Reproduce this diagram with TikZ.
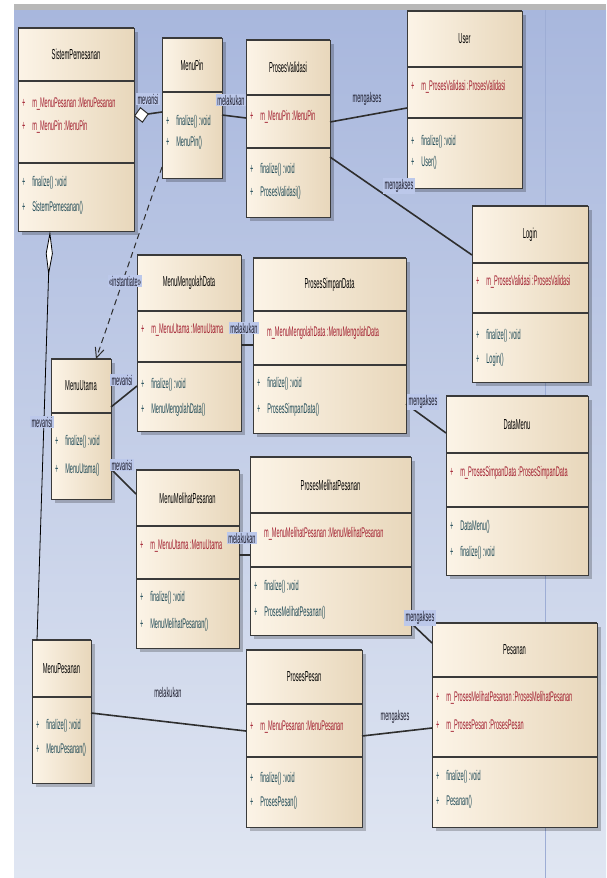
\documentclass[tikz,border=0pt]{standalone}
\usepackage{fontspec}
\newfontfamily\umlf[FakeStretch=0.4]{Liberation Sans}
\usetikzlibrary{arrows.meta}
\definecolor{bgT}{HTML}{A8B7DD}
\definecolor{bgB}{HTML}{E0E6F2}
\definecolor{barc}{HTML}{B8B8B8}
\definecolor{boxL}{HTML}{FCF4E7}
\definecolor{boxR}{HTML}{E8D7BB}
\definecolor{boxline}{HTML}{3A3A3A}
\definecolor{attrc}{HTML}{A11D2E}
\definecolor{methc}{HTML}{1F4A57}
\definecolor{lblc}{HTML}{BCC8EA}
\definecolor{linec}{HTML}{2E2E2E}
\definecolor{vlinec}{HTML}{9DADD5}
\definecolor{lbltext}{HTML}{1C1C2C}
\newcounter{tl}
\tikzset{
 clsbox/.style={draw=boxline, line width=1pt, left color=boxL, right color=boxR, inner sep=0pt, outer sep=0pt, anchor=north west},
 boxshadow/.style={fill=black, opacity=0.22},
 topl/.style={draw=boxline, line width=2.2pt},
 divl/.style={draw=boxline, line width=1.4pt},
 clsname/.style={font=\umlf\fontsize{14.5}{16}\selectfont, text=black, inner sep=0pt},
 attrt/.style={font=\umlf\fontsize{14}{16}\selectfont, text=attrc, inner sep=0pt, anchor=west},
 metht/.style={font=\umlf\fontsize{14}{16}\selectfont, text=methc, inner sep=0pt, anchor=west},
 lbl/.style={font=\umlf\fontsize{14}{16}\selectfont, text=lbltext, fill=lblc, inner sep=1.2pt},
 lbln/.style={font=\umlf\fontsize{14}{16}\selectfont, text=lbltext, inner sep=1.2pt},
 assoc/.style={draw=linec, line width=1.6pt},
 thinl/.style={draw=black, line width=0.8pt},
 dep/.style={draw=linec, line width=1pt, dash pattern=on 6pt off 4pt},
}
\newcommand\umlclass[7]{%
 \fill[boxshadow] (#2+4,#3+4) rectangle (#4+4,#5+4);
 \node[clsbox, minimum width={(#4-#2)*1pt}, minimum height={(#5-#3)*1pt}] (#1) at (#2,#3) {};
 \draw[topl] (#1.north west) -- (#1.north east);
 \node[clsname] (#1-name) at ({(#2+#4)/2},{(#3+#6)/2}) {#7};
 \draw[divl] (#1.west |- 0,#6) -- (#1.east |- 0,#6);
}
\newcommand\umldiv[2]{\draw[divl] (#1.west |- 0,#2) -- (#1.east |- 0,#2);}
\newcommand\umlattr[3]{\stepcounter{tl}\node[attrt, xshift=4pt] (t\thetl) at (#1.west |- 0,#2) {+\hspace{6.8pt}#3};}
\newcommand\umlattrn[3]{\stepcounter{tl}\node[attrt, xshift=14pt] (t\thetl) at (#1.west |- 0,#2) {#3};}
\newcommand\umlmeth[3]{\stepcounter{tl}\node[metht, xshift=4pt] (t\thetl) at (#1.west |- 0,#2) {+\hspace{6.8pt}#3};}
\begin{document}
\begin{tikzpicture}[x=1pt,y=-1pt]
\useasboundingbox (0,0) rectangle (606,878);
\fill[white] (0,0) rectangle (606,878);
\fill[barc] (14,4) rectangle (606,10);
\shade[top color=bgT, bottom color=bgB] (14,10) rectangle (606,878);
\draw[vlinec, line width=0.6pt] (545,10) -- (545,878);

% SistemPemesanan
\umlclass{sp}{18}{28}{134}{231}{81}{SistemPemesanan}
\umldiv{sp}{163}
\umlattr{sp}{104}{m\_MenuPesanan :MenuPesanan}
\umlattr{sp}{127}{m\_MenuPin :MenuPin}
\umlmeth{sp}{183}{finalize() :void}
\umlmeth{sp}{208}{SistemPemesanan()}
% MenuPin
\umlclass{mp}{162}{38}{222}{178}{92}{MenuPin}
\umlmeth{mp}{122}{finalize() :void}
\umlmeth{mp}{143}{MenuPin()}
% ProsesValidasi
\umlclass{pv}{246}{40}{330}{217}{95}{ProsesValidasi}
\umldiv{pv}{148}
\umlattr{pv}{117}{m\_MenuPin :MenuPin}
\umlmeth{pv}{170}{finalize() :void}
\umlmeth{pv}{193}{ProsesValidasi()}
% User
\umlclass{us}{407}{11}{522}{188}{67}{User}
\umldiv{us}{118}
\umlattr{us}{87}{m\_ProsesValidasi :ProsesValidasi}
\umlmeth{us}{142}{finalize() :void}
\umlmeth{us}{163}{User()}
% Login
\umlclass{lg}{472}{206}{588}{382}{263}{Login}
\umldiv{lg}{313}
\umlattr{lg}{282}{m\_ProsesValidasi :ProsesValidasi}
\umlmeth{lg}{336}{finalize() :void}
\umlmeth{lg}{360}{Login()}
% MenuMengolahData
\umlclass{mmd}{137}{255}{241}{431}{311}{MenuMengolahData}
\umldiv{mmd}{362}
\umlattr{mmd}{330}{m\_MenuUtama :MenuUtama}
\umlmeth{mmd}{385}{finalize() :void}
\umlmeth{mmd}{410}{MenuMengolahData()}
% ProsesSimpanData
\umlclass{psd}{253}{258}{406}{433}{311}{ProsesSimpanData}
\umldiv{psd}{365}
\umlattrn{psd}{333}{m\_MenuMengolahData :MenuMengolahData}
\umlmeth{psd}{384}{finalize() :void}
\umlmeth{psd}{410}{ProsesSimpanData()}
% MenuUtama
\umlclass{mu}{51}{359}{111}{499}{413}{MenuUtama}
\umlmeth{mu}{442}{finalize() :void}
\umlmeth{mu}{470}{MenuUtama()}
% DataMenu
\umlclass{dm}{446}{396}{588}{575}{453}{DataMenu}
\umldiv{dm}{507}
\umlattr{dm}{473}{m\_ProsesSimpanData :ProsesSimpanData}
\umlmeth{dm}{527}{DataMenu()}
\umlmeth{dm}{553}{finalize() :void}
% MenuMelihatPesanan
\umlclass{mmp}{136}{470}{239}{648}{526}{MenuMelihatPesanan}
\umldiv{mmp}{579}
\umlattr{mmp}{546}{m\_MenuUtama :MenuUtama}
\umlmeth{mmp}{598}{finalize() :void}
\umlmeth{mmp}{625}{MenuMelihatPesanan()}
% ProsesMelihatPesanan
\umlclass{pmp}{250}{457}{411}{635}{513}{ProsesMelihatPesanan}
\umldiv{pmp}{567}
\umlattrn{pmp}{534}{m\_MenuMelihatPesanan :MenuMelihatPesanan}
\umlmeth{pmp}{587}{finalize() :void}
\umlmeth{pmp}{613}{ProsesMelihatPesanan()}
% MenuPesanan
\umlclass{mps}{32}{640}{91}{783}{697}{MenuPesanan}
\umlmeth{mps}{726}{finalize() :void}
\umlmeth{mps}{750}{MenuPesanan()}
% ProsesPesan
\umlclass{pp}{246}{650}{362}{827}{704}{ProsesPesan}
\umldiv{pp}{757}
\umlattr{pp}{727}{m\_MenuPesanan :MenuPesanan}
\umlmeth{pp}{779}{finalize() :void}
\umlmeth{pp}{803}{ProsesPesan()}
% Pesanan
\umlclass{ps}{432}{623}{597}{827}{677}{Pesanan}
\umldiv{ps}{757}
\umlattr{ps}{698}{m\_ProsesMelihatPesanan :ProsesMelihatPesanan}
\umlattr{ps}{726}{m\_ProsesPesan :ProsesPesan}
\umlmeth{ps}{777}{finalize() :void}
\umlmeth{ps}{802}{Pesanan()}

% connectors
\draw[assoc, {Diamond[fill=white,line width=1pt,length=15pt,width=16pt]}-] (sp.east |- 0,116) -- (mp.west |- 0,112);
\draw[thinl, {Diamond[fill=white,length=45pt,width=7pt]}-] (sp.south -| 50,0) -- (mps.north -| 37,0);
\draw[dep, -{Straight Barb[length=10pt,width=9pt]}] (mp.west |- 0,167) -- (mu.north -| 96,0);
\draw[assoc] (mp.east |- 0,115) -- (pv.west |- 0,118);
\draw[assoc] (pv.east |- 0,122) -- (us.west |- 0,108);
\draw[assoc] (pv.east |- 0,157) -- (lg.west |- 0,255);
\draw[assoc] (mu.east |- 0,407) -- (mmd.west |- 0,386);
\draw[assoc] (mu.east |- 0,469) -- (mmp.west |- 0,494);
\draw[assoc] (mmd.east |- 0,345) -- (psd.west |- 0,345);
\draw[assoc] (mmp.east |- 0,555) -- (pmp.west |- 0,555);
\draw[assoc] (psd.east |- 0,404) -- (dm.west |- 0,433);
\draw[assoc] (pmp.east |- 0,623) -- (ps.west |- 0,643);
\draw[assoc] (pp.east |- 0,736) -- (ps.west |- 0,728);
\draw[assoc] (mps.east |- 0,713) -- (pp.west |- 0,731);

% labels
\node[lbl] (l1) at (148,99) {mevarisi};
\node[lbl] (l2) at (231,100) {melakukan};
\node[lbln] (l3) at (367,99) {mengakses};
\node[lbl] (l4) at (399,186) {mengakses};
\node[lbl] (l5) at (125,281) {«instantiate»};
\node[lbl] (l6) at (42,422) {mevarisi};
\node[lbl] (l7) at (122,380) {mevarisi};
\node[lbl] (l8) at (122,465) {mevarisi};
\node[lbl] (l9) at (244,328) {melakukan};
\node[lbl] (l10) at (242,538) {melakukan};
\node[lbl] (l11) at (423,402) {mengakses};
\node[lbl] (l12) at (420,618) {mengakses};
\node[lbln] (l13) at (395,717) {mengakses};
\node[lbln] (l14) at (168,692) {melakukan};
\end{tikzpicture}
\end{document}
